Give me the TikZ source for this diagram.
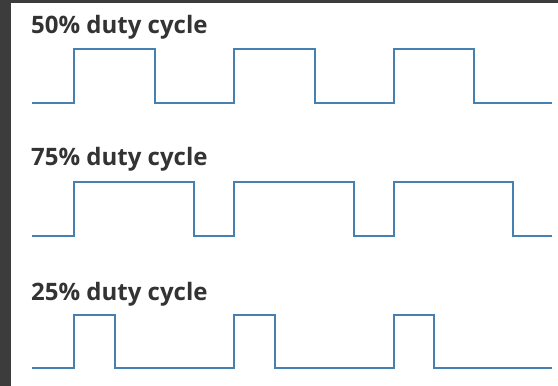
\documentclass[tikz,border=0pt]{standalone}
\usepackage{fontspec}
\setmainfont{Open Sans}
\begin{document}
\begin{tikzpicture}[x=1pt,y=-1pt,
  wave/.style={draw=wavecol,line width=2.7pt,line join=miter,line cap=butt},
  caption/.style={anchor=base west,inner sep=0pt,text=captioncol,font=\fontsize{24}{27}\selectfont\bfseries}]
\definecolor{wavecol}{HTML}{4580B0}
\definecolor{captioncol}{HTML}{333333}
\definecolor{framecol}{HTML}{3C3C3C}
\useasboundingbox (0,0) rectangle (558,386);
\fill[framecol] (0,0) rectangle (558,386);
\fill[white] (11,3) rectangle (558,386);

% 50% duty cycle
\node[caption] (t50) at (31,33) {50\% duty cycle};
\draw[wave] (32,103) -- (74,103) -- (74,49) -- (155,49) -- (155,103)
  -- (234,103) -- (234,49) -- (315,49) -- (315,103)
  -- (394,103) -- (394,49) -- (474,49) -- (474,103) -- (552,103);

% 75% duty cycle
\node[caption] (t75) at (31,165) {75\% duty cycle};
\draw[wave] (32,236) -- (74,236) -- (74,182) -- (194,182) -- (194,236)
  -- (234,236) -- (234,182) -- (354,182) -- (354,236)
  -- (394,236) -- (394,182) -- (513,182) -- (513,236) -- (552,236);

% 25% duty cycle
\node[caption] (t25) at (31,300) {25\% duty cycle};
\draw[wave] (32,368) -- (74,368) -- (74,315) -- (115,315) -- (115,368)
  -- (234,368) -- (234,315) -- (275,315) -- (275,368)
  -- (394,368) -- (394,315) -- (434,315) -- (434,368) -- (552,368);
\end{tikzpicture}
\end{document}
